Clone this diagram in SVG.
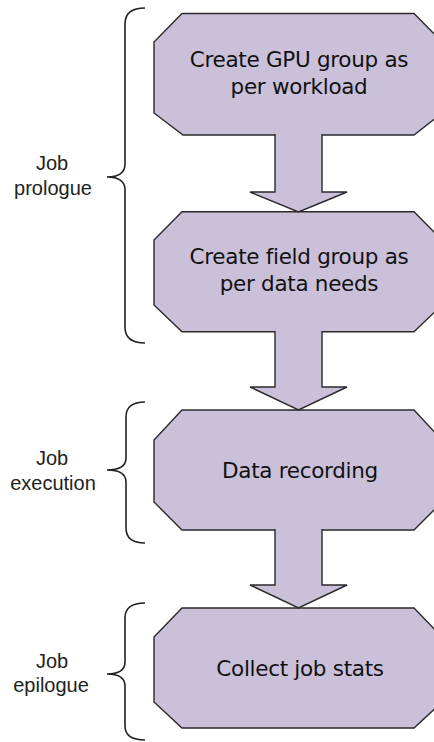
<svg xmlns="http://www.w3.org/2000/svg" width="434" height="742" viewBox="0 0 434 742">
<style>
.box{fill:#CBC0D9;stroke:#2a2a2a;stroke-width:1.4;stroke-linejoin:miter}
.arrow{fill:#CBC0D9;stroke:#2a2a2a;stroke-width:1.4;stroke-linejoin:miter}
.t{font-family:"DejaVu Sans",Verdana,sans-serif;font-size:21.5px;fill:#111;text-anchor:middle;letter-spacing:-0.3px}
.lbl{font-family:"Liberation Sans",Arial,sans-serif;font-size:20px;fill:#222;text-anchor:middle}
.brace{fill:none;stroke:#222;stroke-width:1.6}
</style>
<rect width="434" height="742" fill="#ffffff"/>
<g id="node-gpu-group">
<polygon class="box" points="182,13.5 414,13.5 442,42 442,113 414,135 183,135 154,113 154,42"/>
<text class="t" x="299" y="67">Create GPU group as</text>
<text class="t" x="299" y="94">per workload</text>
</g>
<g id="node-field-group">
<polygon class="box" points="182,211.7 414,211.7 442,240 442,305 414,331.7 182,331.7 154,305 154,240"/>
<text class="t" x="299" y="264">Create field group as</text>
<text class="t" x="299" y="291">per data needs</text>
</g>
<g id="node-data-recording">
<polygon class="box" points="182,410 414,410 442,440 442,502 414,530 182,530 154,502 154,440"/>
<text class="t" x="300" y="478">Data recording</text>
</g>
<g id="node-collect-stats">
<polygon class="box" points="182,608 414,608 442,637 442,702 414,728 182,728 154,702 154,637"/>
<text class="t" x="300" y="676">Collect job stats</text>
</g>
<g id="connectors">
<path class="arrow" d="M275,134 L275,192 L250,192 L298.5,212 L347,192 L322,192 L322,134"/>
<path class="arrow" d="M275,331 L275,387 L250,387 L298.5,410 L347,387 L322,387 L322,331"/>
<path class="arrow" d="M275,529 L275,585 L250,585 L298.5,608 L347,585 L322,585 L322,529"/>
</g>
<g id="phase-prologue">
<path class="brace" d="M145,8 Q125,8 125,24 L125,164 Q125,177 107,177 Q125,177 125,190 L125,327 Q125,343 145,343"/>
<text class="lbl" x="52" y="170">Job</text>
<text class="lbl" x="53" y="195">prologue</text>
</g>
<g id="phase-execution">
<path class="brace" d="M145,402 Q126,402 126,417 L126,458 Q126,470 107,470 Q126,470 126,482 L126,528 Q126,543 145,543"/>
<text class="lbl" x="52" y="465">Job</text>
<text class="lbl" x="53" y="490">execution</text>
</g>
<g id="phase-epilogue">
<path class="brace" d="M145,603 Q125,603 125,618 L125,662 Q125,674 107,674 Q125,674 125,686 L125,726 Q125,740 145,740"/>
<text class="lbl" x="52" y="668">Job</text>
<text class="lbl" x="51" y="692">epilogue</text>
</g>
</svg>
